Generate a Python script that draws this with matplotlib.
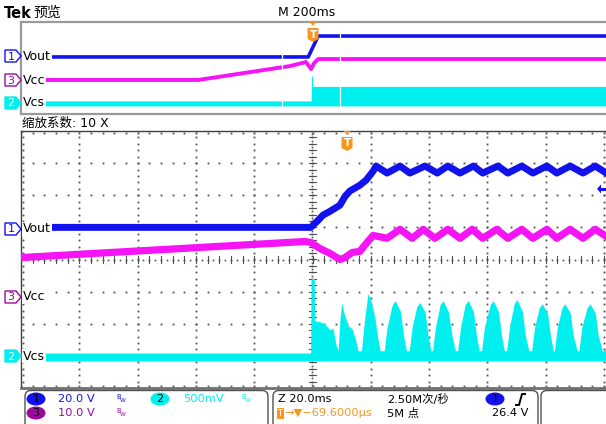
import matplotlib.pyplot as plt
from matplotlib.patches import Polygon, FancyBboxPatch, Ellipse, Rectangle
import numpy as np

plt.rcParams['font.family'] = ['DejaVu Sans', 'Noto Sans CJK SC']

BLUE = '#1212EE'
MAGENTA = '#F514F5'
CYAN = '#00F0F0'
PURPLE = '#9B0A9B'
ORANGE = '#F6961E'
GRID = '#505050'

# ---- overview window (200 ms/div), time and level in divisions
ov_vout_t = [-5.0, -0.09, 0.08, 5.05]
ov_vout_v = [0.96, 0.96, 2.78, 2.78]
ov_vcc_t = [-5.0, -1.97, -0.40, -0.13, -0.04, 0.01, 0.08, 5.05]
ov_vcc_v = [-1.04, -1.04, 0.17, 0.52, -0.09, 0.43, 0.78, 0.78]
ov_vcs_t = [-5.0, -0.04, -0.035, -0.02, -0.015, 5.05]
ov_vcs_top = [-2.86, -2.86, -0.70, -0.70, -1.60, -1.60]
ov_vcs_bottom = -3.30
ov_zoom_edges = [-0.54, 0.45]

# ---- zoomed window (20 ms/div), time and level in divisions
vout_t = [-5.0, -0.03, 0.08, 0.18, 0.30, 0.47, 0.56, 0.64, 0.81, 0.92, 1.04,
          1.09, 1.28, 1.50, 1.67, 1.93, 2.14, 2.32, 2.53, 2.76, 2.92, 3.18,
          3.35, 3.59, 3.78, 4.02, 4.19, 4.42, 4.64, 4.85, 5.04]
vout_v = [1.0, 1.0, 1.19, 1.38, 1.50, 1.69, 1.97, 2.13, 2.31, 2.47, 2.75,
          2.91, 2.69, 2.91, 2.69, 2.91, 2.69, 2.91, 2.69, 2.91, 2.69, 2.91,
          2.69, 2.91, 2.69, 2.91, 2.69, 2.91, 2.69, 2.91, 2.69]

vcc_t = [-5.0, -0.13, -0.03, 0.13, 0.30, 0.47, 0.56, 0.68, 0.81, 0.88, 1.04,
         1.28, 1.50, 1.71, 1.90, 2.10, 2.32, 2.53, 2.74, 2.92, 3.16, 3.35,
         3.59, 3.78, 4.02, 4.19, 4.42, 4.64, 4.85, 5.04]
vcc_v = [0.06, 0.56, 0.53, 0.34, 0.19, 0.0, 0.06, 0.22, 0.25, 0.41, 0.75,
         0.66, 0.94, 0.66, 0.94, 0.66, 0.94, 0.66, 0.94, 0.66, 0.94, 0.66,
         0.94, 0.66, 0.94, 0.66, 0.94, 0.66, 0.94, 0.72]

# upper envelope of the switching bursts on Vcs
vcs_t = [-5.0, -0.03, -0.02, 0.03, 0.04, 0.13, 0.21, 0.30, 0.35, 0.40, 0.44,
         0.47, 0.50, 0.53, 0.61, 0.68, 0.74, 0.78,
         0.84, 0.89, 0.94, 0.95, 0.99, 1.07, 1.12, 1.16,
         1.23, 1.28, 1.37, 1.42, 1.51, 1.56, 1.61,
         1.66, 1.71, 1.79, 1.84, 1.93, 1.98, 2.03,
         2.06, 2.11, 2.19, 2.24, 2.33, 2.39, 2.45,
         2.49, 2.54, 2.62, 2.67, 2.76, 2.81, 2.86,
         2.90, 2.95, 3.05, 3.10, 3.19, 3.24, 3.29,
         3.33, 3.38, 3.46, 3.51, 3.60, 3.65, 3.71,
         3.76, 3.81, 3.89, 3.94, 4.03, 4.08, 4.13,
         4.15, 4.20, 4.28, 4.33, 4.42, 4.47, 4.54,
         4.57, 4.62, 4.71, 4.76, 4.85, 4.90, 4.97,
         5.01, 5.04]
vcs_top = [-2.91, -2.91, -0.59, -0.59, -1.91, -1.94, -2.00, -2.19, -2.13, -2.63, -2.84,
           -1.90, -1.34, -1.60, -2.06, -2.16, -2.50, -2.84,
           -2.84, -1.91, -1.22, -1.06, -1.19, -1.81, -2.44, -2.84,
           -2.84, -2.10, -1.40, -1.28, -1.62, -2.35, -2.84,
           -2.84, -2.10, -1.46, -1.34, -1.62, -2.35, -2.84,
           -2.84, -2.10, -1.40, -1.28, -1.62, -2.35, -2.84,
           -2.84, -2.10, -1.40, -1.28, -1.62, -2.35, -2.84,
           -2.84, -2.10, -1.40, -1.28, -1.62, -2.35, -2.84,
           -2.84, -2.10, -1.37, -1.25, -1.62, -2.35, -2.84,
           -2.84, -2.10, -1.50, -1.38, -1.66, -2.35, -2.84,
           -2.84, -2.10, -1.50, -1.38, -1.66, -2.35, -2.84,
           -2.84, -2.10, -1.50, -1.38, -1.66, -2.35, -2.84,
           -2.84, -2.60]
vcs_bottom = -3.16
trig_level = 2.19

W, H = 606, 424
fig = plt.figure(figsize=(W / 100, H / 100), dpi=100)


def box(x0, y0, x1, y1):
    return [x0 / W, 1 - y1 / H, (x1 - x0) / W, (y1 - y0) / H]


# ---------------- overview
ax_o = fig.add_axes(box(21, 22, 606, 114))
ax_o.set_xlim(-5, 5)
ax_o.set_ylim(-4, 4)
ax_o.set_xticks([])
ax_o.set_yticks([])
for s in ['top', 'left', 'bottom']:
    ax_o.spines[s].set_color('#9a9a9a')
    ax_o.spines[s].set_linewidth(1.6)
ax_o.spines['right'].set_visible(False)
ax_o.fill_between(ov_vcs_t, ov_vcs_bottom, ov_vcs_top, color=CYAN, lw=0)
ax_o.plot(ov_vcc_t, ov_vcc_v, color=MAGENTA, lw=2.8)
ax_o.plot(ov_vout_t, ov_vout_v, color=BLUE, lw=2.6)
for e in ov_zoom_edges:
    ax_o.axvline(e, color='white', lw=0.9)

# ---------------- zoomed view
ax = fig.add_axes(box(21, 131, 606, 388))
ax.set_xlim(-5, 5 + 2 / 58.3)
ax.set_ylim(-4, 4)
ax.set_xticks([])
ax.set_yticks([])
for s in ['top', 'left']:
    ax.spines[s].set_color('#404040')
    ax.spines[s].set_linewidth(1.0)
ax.spines['bottom'].set_color('#707070')
ax.spines['bottom'].set_linewidth(2.0)
ax.spines['right'].set_visible(False)

minor_x = np.arange(-5, 5.01, 0.2)
minor_y = np.arange(-4, 4.01, 0.2)
gx, gy = [], []
for xv in range(-4, 6):
    gx += [xv] * len(minor_y)
    gy += list(minor_y)
for yv in range(-3, 4):
    gx += list(minor_x)
    gy += [yv] * len(minor_x)
gx += [-4.96] * len(minor_y) + list(minor_x) + list(minor_x)
gy += list(minor_y) + [3.94] * len(minor_x) + [-3.94] * len(minor_x)
ax.plot(gx, gy, ls='none', marker='s', ms=1.3, mew=0, color=GRID, zorder=1)
# centre cross with minor ticks
for yv in minor_y:
    ax.plot([-0.06, 0.06], [yv, yv], color=GRID, lw=0.8, zorder=1)
for xv in minor_x:
    ax.plot([xv, xv], [-0.1, 0.1], color=GRID, lw=0.8, zorder=1)
ax.plot([0] * len(minor_y), minor_y + 0.1, ls='none', marker='s', ms=1.2, mew=0, color=GRID)
ax.plot(minor_x + 0.1, [0] * len(minor_x), ls='none', marker='s', ms=1.2, mew=0, color=GRID)

ax.fill_between(vcs_t, vcs_bottom, vcs_top, color=CYAN, lw=0, zorder=3)
ax.plot(vcc_t, vcc_v, color=MAGENTA, lw=5.2, solid_joinstyle='round', zorder=4)
ax.plot(vout_t, vout_v, color=BLUE, lw=5.0, solid_joinstyle='round', zorder=5)

# ---------------- screen overlay (pixel coordinates)
sc = fig.add_axes([0, 0, 1, 1], zorder=10)
sc.set_xlim(0, W)
sc.set_ylim(H, 0)
sc.axis('off')
sc.patch.set_alpha(0)

sc.text(4, 13, 'Tek', fontsize=10.5, fontweight='bold', va='center')
sc.text(33, 13, '预览', fontsize=10, va='center')
sc.text(278, 13, 'M 200ms', fontsize=9, va='center')
sc.text(22, 123, '缩放系数: 10 X', fontsize=9, va='center')


def ch_marker(y, num, edge, fill, tcol, label):
    sc.add_patch(Polygon([(5, y - 6), (16, y - 6), (21, y), (16, y + 6), (5, y + 6)],
                         closed=True, fc=fill, ec=edge, lw=1.0))
    sc.text(11, y + 0.5, num, fontsize=8, color=tcol, ha='center', va='center')
    sc.text(23, y, label, fontsize=9, va='center',
            bbox=dict(fc='white', ec='none', pad=0.6))


ch_marker(56, '1', BLUE, 'white', BLUE, 'Vout')
ch_marker(229, '1', BLUE, 'white', BLUE, 'Vout')
ch_marker(80, '3', PURPLE, 'white', PURPLE, 'Vcc')
ch_marker(297, '3', PURPLE, 'white', PURPLE, 'Vcc')
ch_marker(103, '2', CYAN, CYAN, 'white', 'Vcs')
ch_marker(356, '2', CYAN, CYAN, 'white', 'Vcs')


def t_marker(x, ytop):
    sc.add_patch(Polygon([(x - 3.5, ytop), (x + 3.5, ytop), (x, ytop + 4)], closed=True,
                         fc=ORANGE, ec='none'))
    y0 = ytop + 6
    sc.add_patch(Polygon([(x - 5.5, y0), (x + 5.5, y0), (x + 5.5, y0 + 11), (x, y0 + 14),
                          (x - 5.5, y0 + 11)], closed=True, fc=ORANGE, ec='none'))
    sc.text(x, y0 + 6.5, 'T', fontsize=7.5, color='white', ha='center', va='center',
            fontweight='bold')


t_marker(313, 22)
t_marker(347, 131)

# trigger level arrow
ly = 259 - trig_level * 32
sc.add_patch(Polygon([(597, ly), (601, ly - 4.5), (601, ly + 4.5)], closed=True,
                     fc=BLUE, ec='none'))
sc.plot([600, 606], [ly, ly], color=BLUE, lw=2.2)

# ---------------- status bar
for x0, x1 in [(25, 268), (273, 538), (541, 612)]:
    sc.add_patch(FancyBboxPatch((x0, 390.5), x1 - x0, 40,
                                boxstyle='round,pad=0,rounding_size=6',
                                fc='white', ec='#505050', lw=1.0))
r1, r2 = 399, 413


def badge(x, y, num, col):
    sc.add_patch(Ellipse((x, y), 19, 13, fc=col, ec='none'))
    sc.text(x, y + 0.5, num, fontsize=8, ha='center', va='center', color='black')


def bw(x, y, col):
    sc.text(x, y - 2, 'B', fontsize=4.8, color=col, ha='left', va='center')
    sc.text(x + 3.3, y + 1.5, 'W', fontsize=4.2, color=col, ha='left', va='center')


badge(36, r1, '1', BLUE)
sc.text(58, r1, '20.0 V', fontsize=8.2, color=BLUE, va='center')
bw(116, r1, BLUE)
badge(160, r1, '2', CYAN)
sc.text(183, r1, '500mV', fontsize=8.2, color=CYAN, va='center')
bw(241, r1, CYAN)
badge(36, r2, '3', PURPLE)
sc.text(58, r2, '10.0 V', fontsize=8.2, color=PURPLE, va='center')
bw(116, r2, PURPLE)

sc.text(278, r1, 'Z 20.0ms', fontsize=8.2, va='center')
sc.text(387, r1, '2.50M次/秒', fontsize=8.2, va='center')
badge(495, r1, '1', BLUE)
sc.plot([516, 519, 522, 525], [405, 405, 394, 394], color='black', lw=1.4)
sc.add_patch(Rectangle((276.5, 407.5), 7, 11, fc=ORANGE, ec='none'))
sc.text(280, r2 + 0.5, 'T', fontsize=6, color='white', ha='center', va='center')
sc.text(284, r2, '→▼−69.6000µs', fontsize=8.2, color=ORANGE, va='center')
sc.text(387, r2, '5M 点', fontsize=8.2, va='center')
sc.text(492, r2, '26.4 V', fontsize=8.2, va='center')

fig.savefig('out.png', dpi=100)
